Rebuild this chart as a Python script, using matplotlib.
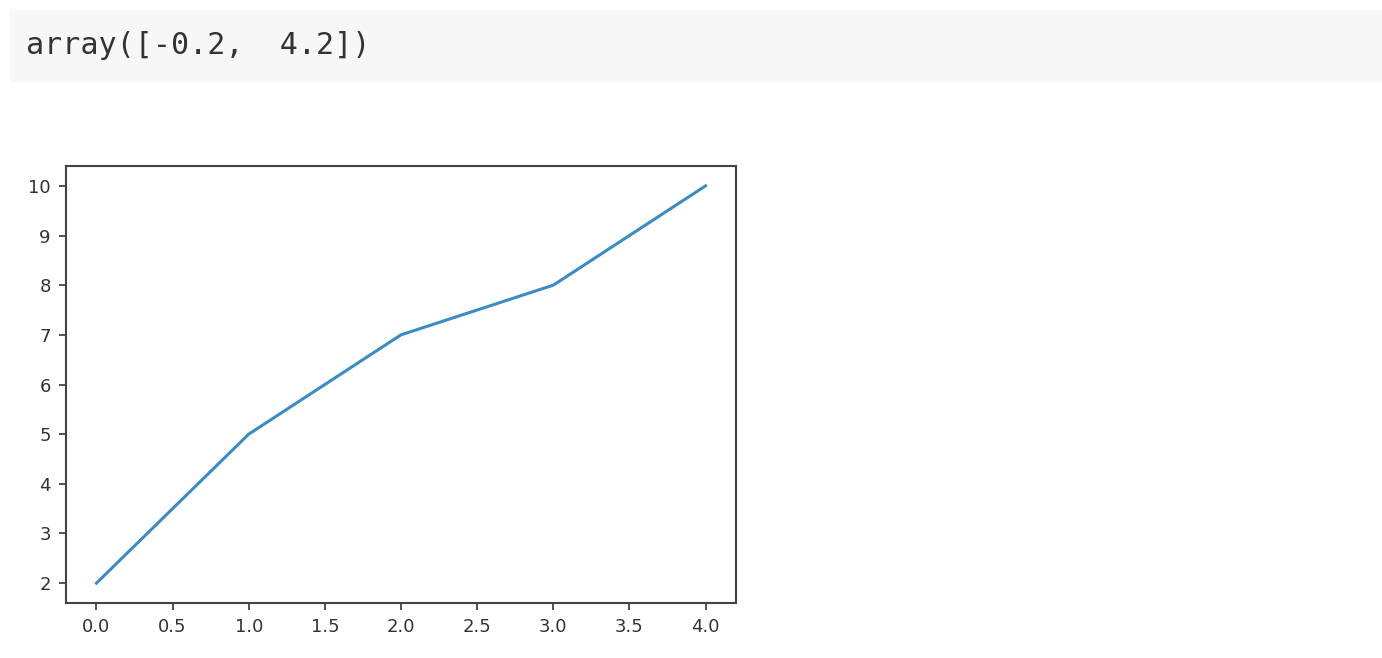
import matplotlib.pyplot as plt
from matplotlib.patches import Rectangle

W, H = 1382, 658

x = [0, 1, 2, 3, 4]
y = [2, 5, 7, 8, 10]
cell_text = "array([-0.2,  4.2])"


def px(left, top, width, height):
    # пиксели экрана -> доли фигуры
    return [left / W, 1 - (top + height) / H, width / W, height / H]


fig = plt.figure(figsize=(W / 100, H / 100), dpi=100)

# серая плашка вывода ячейки
box = px(10, 10, W - 10, 72)
fig.patches.append(Rectangle((box[0], box[1]), box[2], box[3],
                             transform=fig.transFigure, facecolor="#f7f7f7",
                             edgecolor="none", zorder=0))
fig.text(26 / W, 1 - 46 / H, cell_text, family="DejaVu Sans Mono",
         fontsize=21.6, color="#333333", va="center", ha="left")

ax = fig.add_axes(px(66, 166, 670, 437))
ax.plot(x, y, color="#3a8cc4", linewidth=2.2)
ax.set_xlim(-0.2, 4.2)
ax.set_ylim(1.6, 10.4)
ax.set_xticks([0, 0.5, 1, 1.5, 2, 2.5, 3, 3.5, 4])
ax.set_yticks(range(2, 11))
ax.tick_params(labelsize=13, length=5, width=1.3, colors="#444444",
               labelcolor="#333333", pad=6)
for s in ax.spines.values():
    s.set_linewidth(1.5)
    s.set_color("#444444")

fig.savefig("out.png", dpi=100)
